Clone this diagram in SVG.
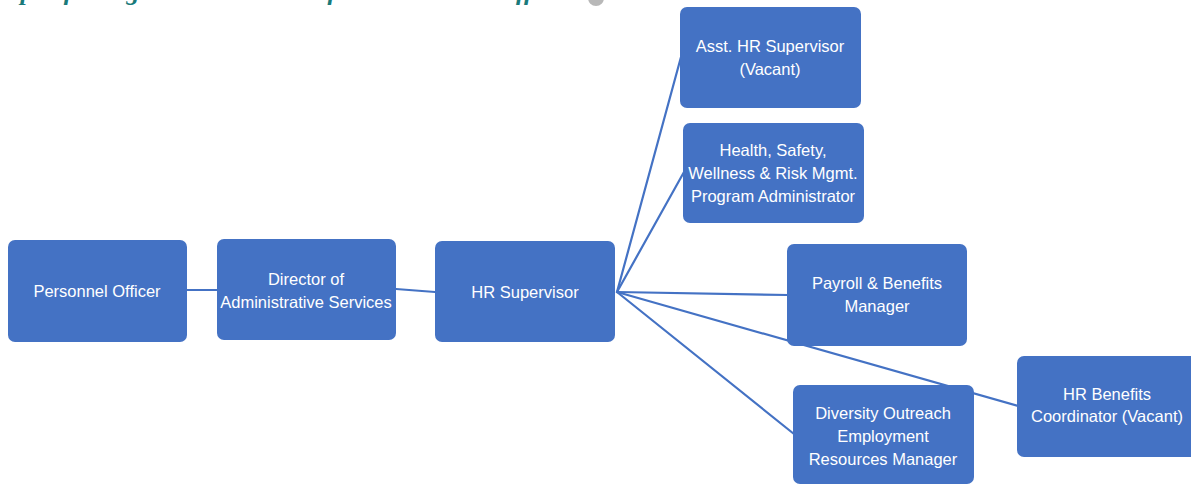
<svg xmlns="http://www.w3.org/2000/svg" width="1191" height="484" viewBox="0 0 1191 484">
  <style>
    .box { fill: #4472C4; }
    .lbl { fill: #FFFFFF; font-family: "Liberation Sans", Arial, sans-serif; font-size: 16.5px; text-anchor: middle; }
    .link { stroke: #4472C4; stroke-width: 2.2; fill: none; stroke-linecap: round; }
    .title { fill: #1A7A7A; font-family: "Liberation Serif", "Times New Roman", serif; font-style: italic; font-weight: bold; font-size: 26px; }
  </style>
  <rect width="1191" height="484" fill="#FFFFFF"/>

  <!-- heading, sitting almost entirely above the top edge -->
  <text class="title" x="6" y="0">Specific Organization Chart of the Personnel Office</text>
  <circle cx="596" cy="-2" r="8" fill="#B8B8B8"/>

  <!-- connectors -->
  <g id="connectors">
    <line class="link" x1="187" y1="290" x2="217" y2="290" stroke-width="1.4"/>
    <line class="link" x1="396" y1="289" x2="435" y2="292"/>
    <line class="link" x1="617" y1="292" x2="681" y2="57"/>
    <line class="link" x1="617" y1="292" x2="684" y2="172"/>
    <line class="link" x1="617" y1="292" x2="788" y2="295"/>
    <line class="link" x1="617" y1="292" x2="794" y2="434"/>
    <line class="link" x1="617" y1="292" x2="1018" y2="406"/>
  </g>

  <g id="personnel-officer">
    <rect class="box" x="8" y="240" width="179" height="102" rx="7"/>
    <text class="lbl" x="97" y="297">Personnel Officer</text>
  </g>

  <g id="director-admin-services">
    <rect class="box" x="217" y="239" width="179" height="101" rx="7"/>
    <text class="lbl" x="306" y="285">Director of</text>
    <text class="lbl" x="306" y="308">Administrative Services</text>
  </g>

  <g id="hr-supervisor">
    <rect class="box" x="435" y="241" width="180" height="101" rx="7"/>
    <text class="lbl" x="525" y="298">HR Supervisor</text>
  </g>

  <g id="asst-hr-supervisor">
    <rect class="box" x="680" y="7" width="181" height="101" rx="7"/>
    <text class="lbl" x="770" y="52">Asst. HR Supervisor</text>
    <text class="lbl" x="770" y="75">(Vacant)</text>
  </g>

  <g id="health-safety">
    <rect class="box" x="683" y="123" width="181" height="100" rx="7"/>
    <text class="lbl" x="773" y="156">Health, Safety,</text>
    <text class="lbl" x="773" y="179">Wellness &amp; Risk Mgmt.</text>
    <text class="lbl" x="773" y="202">Program Administrator</text>
  </g>

  <g id="payroll-benefits">
    <rect class="box" x="787" y="244" width="180" height="102" rx="7"/>
    <text class="lbl" x="877" y="289">Payroll &amp; Benefits</text>
    <text class="lbl" x="877" y="312">Manager</text>
  </g>

  <g id="diversity-outreach">
    <rect class="box" x="793" y="385" width="181" height="99" rx="7"/>
    <text class="lbl" x="883" y="419">Diversity Outreach</text>
    <text class="lbl" x="883" y="442">Employment</text>
    <text class="lbl" x="883" y="465">Resources Manager</text>
  </g>

  <g id="hr-benefits-coordinator">
    <rect class="box" x="1017" y="356" width="182" height="101" rx="7"/>
    <text class="lbl" x="1107" y="400">HR Benefits</text>
    <text class="lbl" x="1107" y="422">Coordinator (Vacant)</text>
  </g>
</svg>
